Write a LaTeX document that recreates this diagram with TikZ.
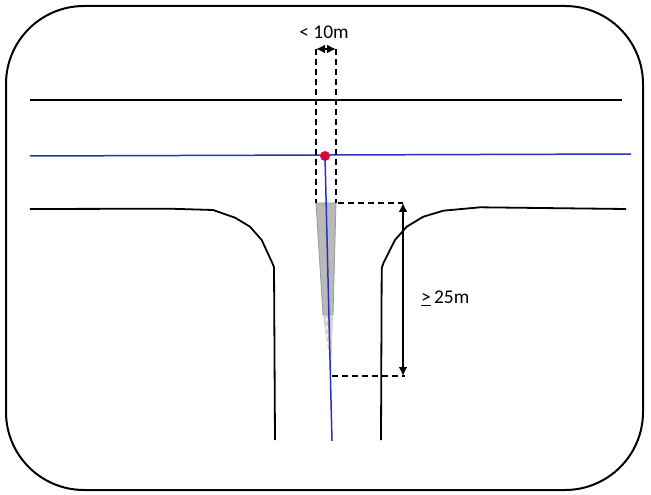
\documentclass[tikz,border=0pt]{standalone}
\usepackage{fontspec}
\setmainfont{Carlito}
\usetikzlibrary{arrows.meta}
\definecolor{roadblue}{RGB}{40,50,190}
\definecolor{dotred}{RGB}{240,0,50}
\begin{document}
\begin{tikzpicture}[x=1bp,y=-1bp,
  road/.style={line width=1.8bp,black},
  dimline/.style={line width=2bp,dash pattern=on 6bp off 4bp},
  dimarrow/.style={line width=1.8bp,{Latex[length=9bp,width=9bp]}-{Latex[length=9bp,width=9bp]}},
  lbl/.style={inner sep=0pt,font=\fontsize{19.5}{22}\selectfont}]
\useasboundingbox (0,0) rectangle (651,495);
% frame
\draw[line width=2bp,rounded corners=78bp] (6,6) rectangle (643,490);
% top road edge
\coordinate (tl) at (30,100);
\coordinate (tr) at (622,100);
\draw[road] (tl) -- (tr);
% left road edge
\draw[road] (30,209) -- (170,208.7) -- (213,210) -- (235,217.7) -- (250,226.7) -- (261.7,240) -- (271.7,261.7) -- (274,267) -- (275,440);
% right road edge
\draw[road] (626,209) -- (480,207.3) -- (443.3,210.7) -- (423.3,216.7) -- (406.7,226.7) -- (395,240) -- (383.3,263.3) -- (381.7,268.3) -- (381,440);
% wedge
\fill[gray!55,draw=gray!80,line width=0.8bp] (316,203) -- (336,203) -- (333,315) -- (323,315) -- cycle;
\fill[gray!35] (323,315) -- (333,315) -- (331,372) -- cycle;
\draw[white,line width=1.5bp,dash pattern=on 3bp off 5bp] (326.5,318) -- (328.5,362);
% blue centre lines
\coordinate (bl) at (30,156);
\coordinate (br) at (631,154);
\draw[roadblue,line width=1.5bp] (bl) -- (br);
\node[circle,fill=dotred,inner sep=0pt,minimum size=10bp] (dot) at (325,156) {};
\coordinate (bend) at (332,441);
\draw[roadblue,line width=1.5bp] (dot.center) -- (bend);
% width dimension
\coordinate (wl) at (316,49);
\coordinate (wr) at (336,49);
\coordinate (wlb) at (316,203);
\coordinate (wrb) at (336,203);
\draw[dimline] (wl) -- (wlb);
\draw[dimline] (wr) -- (wrb);
\draw[dimarrow] (wl) -- (wr);
\node[lbl] (w) at (324,32) {< 10m};
% length dimension
\coordinate (ht) at (338,203);
\coordinate (htr) at (403,203);
\coordinate (hb) at (332,376);
\coordinate (hbr) at (405,376);
\draw[dimline] (ht) -- (htr);
\draw[dimline] (hb) -- (hbr);
\coordinate (at) at (403,203);
\coordinate (ab) at (403,376);
\draw[dimarrow] (at) -- (ab);
\node[lbl,anchor=west] (len) at (421,298) {\underline{>}\,25m};
\end{tikzpicture}
\end{document}
